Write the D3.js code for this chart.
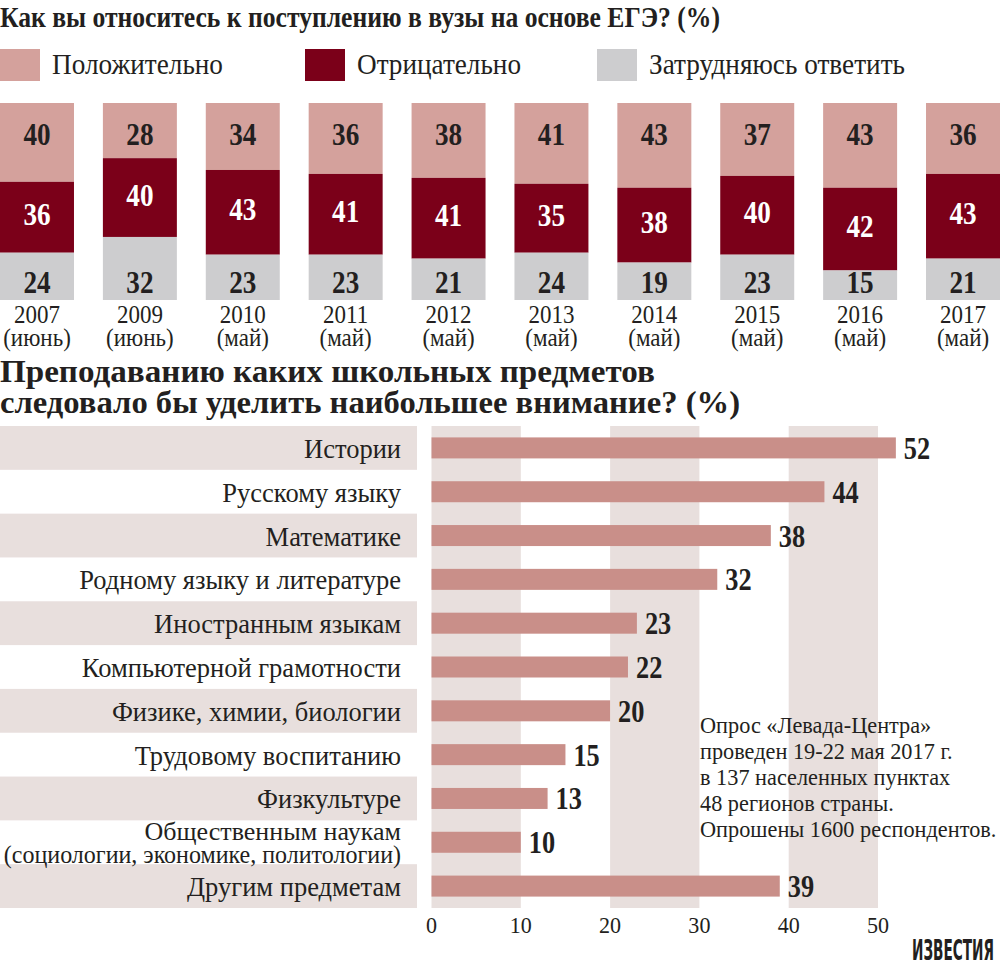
<!DOCTYPE html>
<html><head><meta charset="utf-8">
<script src="https://cdn.jsdelivr.net/npm/d3@7"></script>
<style>body{margin:0;background:#fff}svg{display:block}text{font-family:"Liberation Serif",serif;fill:#231f20}</style>
</head><body>
<script>
// ---- data ----
const years = ["2007","2009","2010","2011","2012","2013","2014","2015","2016","2017"];
const months = ["(июнь)","(июнь)","(май)","(май)","(май)","(май)","(май)","(май)","(май)","(май)"];
const positive = [40,28,34,36,38,41,43,37,43,36];
const negative = [36,40,43,41,41,35,38,40,42,43];
const unsure   = [24,32,23,23,21,24,19,23,15,21];
const seriesNames = ["Положительно","Отрицательно","Затрудняюсь ответить"];
const subjects = ["Истории","Русскому языку","Математике","Родному языку и литературе","Иностранным языкам","Компьютерной грамотности","Физике, химии, биологии","Трудовому воспитанию","Физкультуре","Общественным наукам\n(социологии, экономике, политологии)","Другим предметам"];
const subjectValues = [52,44,38,32,23,22,20,15,13,10,39];
const xTicks = [0,10,20,30,40,50];
const noteLines = ["Опрос «Левада-Центра»","проведен 19-22 мая 2017 г.","в 137 населенных пунктах","48 регионов страны.","Опрошены 1600 респондентов."];

const C = {pos:"#d4a19c", neg:"#7b0019", uns:"#cdcdcf", bar:"#c98f89", band:"#e8dfdd", ink:"#231f20"};

const svg = d3.select("body").append("svg").attr("width",1000).attr("height",970);

function txt(g, x, y, s, o={}) {
  const t = g.append("text")
    .attr("transform", `translate(${x},${y}) scale(${o.sx||1},1)`)
    .attr("font-size", o.size||22)
    .attr("font-weight", o.bold?"bold":"normal")
    .attr("text-anchor", o.anchor||"start")
    .style("fill", o.fill||C.ink)
    .text(s);
  if (o.family) t.style("font-family", o.family);
  if (o.len) t.attr("textLength", o.len).attr("lengthAdjust","spacingAndGlyphs");
  return t;
}

// ---- titles ----
txt(svg, 0, 27, "Как вы относитесь к поступлению в вузы на основе ЕГЭ? (%)", {size:29, bold:true, len:720});
txt(svg, 0, 382, "Преподаванию каких школьных предметов", {size:31, bold:true, len:655});
txt(svg, 0, 413, "следовало бы уделить наибольшее внимание? (%)", {size:31, bold:true, len:740});

// ---- legend ----
const legendX = [0, 305, 597];
const legendLen = [171, 164, 256];
const legendCol = [C.pos, C.neg, C.uns];
seriesNames.forEach((n,i)=>{
  svg.append("rect").attr("x",legendX[i]).attr("y",49).attr("width",40).attr("height",32).attr("fill",legendCol[i]);
  txt(svg, legendX[i]+52, 74, n, {size:29, len:legendLen[i]});
});

// ---- top stacked chart ----
const rows = years.map((y,i)=>({year:y, month:months[i], pos:positive[i], neg:negative[i], uns:unsure[i]}));
const keys = ["pos","neg","uns"];
const stack = d3.stack().keys(keys)(rows);
const xb = d3.scaleBand().domain(years).range([0,1000]).paddingInner(0.281).paddingOuter(0);
const yb = d3.scaleLinear().domain([0,100]).range([103,300]);
const topG = svg.append("g");
stack.forEach(layer=>{
  const k = layer.key;
  topG.append("g").selectAll("rect").data(layer).join("rect")
    .attr("x", d=>xb(d.data.year)).attr("width", xb.bandwidth())
    .attr("y", d=>yb(d[0])).attr("height", d=>yb(d[1])-yb(d[0]))
    .attr("fill", C[k]);
  layer.forEach(d=>{
    const cx = xb(d.data.year)+xb.bandwidth()/2;
    let by;
    if (k==="pos") by = 145;
    else if (k==="uns") by = 293;
    else by = (yb(d[0])+yb(d[1]))/2 + 8;
    txt(topG, cx, by, d.data[k], {size:32, bold:true, anchor:"middle", sx:0.85, fill: k==="neg"?"#fff":C.ink});
  });
});
rows.forEach(d=>{
  const cx = xb(d.year)+xb.bandwidth()/2;
  txt(topG, cx, 323, d.year, {size:25, anchor:"middle", sx:0.92});
  txt(topG, cx, 346, d.month, {size:25, anchor:"middle", sx:0.92});
});

// ---- bottom bar chart ----
const yr = d3.scaleBand().domain(d3.range(subjects.length)).range([426,908]).padding(0);
const xr = d3.scaleLinear().domain([0,50]).range([431.5,878]);
const bot = svg.append("g");
bot.selectAll("rect.lb").data(d3.range(subjects.length).filter(i=>i%2===0)).join("rect")
  .attr("class","lb")
  .attr("x",0).attr("width",417).attr("y",i=>yr(i)).attr("height",yr.bandwidth()).attr("fill",C.band);
bot.selectAll("rect.cb").data([[0,10],[20,30],[40,50]]).join("rect")
  .attr("class","cb")
  .attr("x",d=>xr(d[0])).attr("width",d=>xr(d[1])-xr(d[0]))
  .attr("y",yr.range()[0]).attr("height",yr.range()[1]-yr.range()[0]).attr("fill",C.band);
bot.selectAll("rect.bar").data(subjectValues).join("rect")
  .attr("class","bar")
  .attr("x",xr(0)).attr("width",d=>xr(d)-xr(0))
  .attr("y",(d,i)=>yr(i)+yr.bandwidth()/2-10.5).attr("height",21).attr("fill",C.bar);
subjectValues.forEach((v,i)=>{
  const cy = yr(i)+yr.bandwidth()/2;
  txt(bot, xr(v)+8, cy+11, v, {size:31, bold:true, sx:0.85});
  const parts = subjects[i].split("\n");
  if (parts.length===1) txt(bot, 401, cy+10, parts[0], {size:26.5, anchor:"end", sx:1});
  else {
    txt(bot, 401, cy-2, parts[0], {size:26, anchor:"end", sx:1});
    txt(bot, 401, cy+21, parts[1], {size:24.5, anchor:"end", sx:0.98});
  }
});
xTicks.forEach(t=> txt(bot, xr(t), 933, t, {size:24, anchor:"middle", sx:0.92}));

// note
noteLines.forEach((l,i)=> txt(svg, 700, 733+26*i, l, {size:23, sx:0.97}));

// logo (condensed by measured scale so it fits 912..994)
const logo = txt(svg, 912, 960, "ИЗВЕСТИЯ", {size:28, bold:true, family:"'DejaVu Sans Condensed','DejaVu Sans',sans-serif"});
const lw = logo.node().getComputedTextLength();
logo.attr("transform", `translate(912,960) scale(${82/lw},1)`);
</script>
</body></html>
